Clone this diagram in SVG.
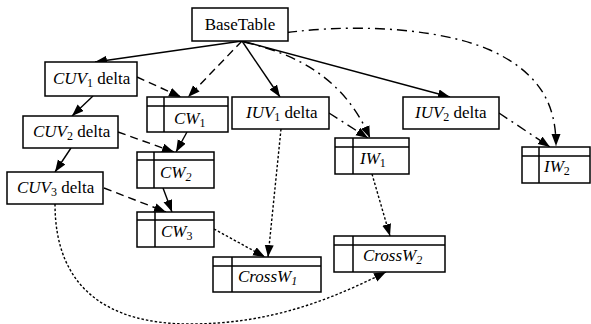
<svg xmlns="http://www.w3.org/2000/svg" width="591" height="324" viewBox="0 0 591 324">
<defs>
<marker id="ah" markerUnits="userSpaceOnUse" markerWidth="13" markerHeight="10" refX="12" refY="4.5" orient="auto">
<path d="M0,0 L12,4.5 L0,9 z" fill="#000"/>
</marker>
</defs>
<style>
.box{fill:#fff;stroke:#000;stroke-width:1.5}
.ln{fill:none;stroke:#000;stroke-width:1.5}
.t{font-family:"Liberation Serif","Times New Roman",serif;font-size:17px;fill:#000}
.i{font-style:italic}
.sub{font-size:12px}
.e{fill:none;stroke:#000;stroke-width:1.4;marker-end:url(#ah)}
.solid{}
.dash{stroke-dasharray:8 5}
.dd{stroke-dasharray:10 5 2 5}
.dot{stroke-dasharray:2.5 2}
</style>
<rect width="591" height="324" fill="#fff"/>
<g id="connectors">
<path class="e solid" d="M242,41 L95,62"/>
<path class="e dash" d="M242,41 L188,97"/>
<path class="e solid" d="M242,41 L280,97"/>
<path class="e dd" d="M244,42 C300,55 345,80 370,138"/>
<path class="e solid" d="M242,41 L450,97"/>
<path class="e dd" d="M244,41 C300,25 420,20 490,50 C545,75 556,110 556,146"/>
<path class="e dash" d="M137,77 L181,97"/>
<path class="e solid" d="M93,96 L72,116"/>
<path class="e solid" d="M71,148 L55,172"/>
<path class="e solid" d="M187,132 L176,152"/>
<path class="e dash" d="M118,132 L174,152"/>
<path class="e solid" d="M163,188 L172,212"/>
<path class="e dash" d="M104,188 L166,212"/>
<path class="e dot" d="M214,229 L265,257"/>
<path class="e dot" d="M281,129 L268,257"/>
<path class="e dd" d="M329,113 L368,138"/>
<path class="e dd" d="M499,113 L550,147"/>
<path class="e dot" d="M372,174 L390,236"/>
<path class="e dot" d="M55,204 C55,290 110,324 190,324 C270,324 330,300 386,272"/>
</g>
<g id="BaseTable">
<rect class="box" x="192" y="8" width="96" height="33"/>
<text class="t" x="240" y="30" text-anchor="middle">BaseTable</text>
</g>
<g id="CUV1">
<rect class="box" x="45" y="62" width="92" height="34"/>
<text class="t" x="53" y="84"><tspan class="i">CUV</tspan><tspan class="sub" dy="3">1</tspan><tspan dy="-3"> delta</tspan></text>
</g>
<g id="CUV2">
<rect class="box" x="23" y="116" width="95" height="32"/>
<text class="t" x="33" y="137"><tspan class="i">CUV</tspan><tspan class="sub" dy="3">2</tspan><tspan dy="-3"> delta</tspan></text>
</g>
<g id="CUV3">
<rect class="box" x="7" y="172" width="96" height="32"/>
<text class="t" x="17" y="193"><tspan class="i">CUV</tspan><tspan class="sub" dy="3">3</tspan><tspan dy="-3"> delta</tspan></text>
</g>
<g id="IUV1">
<rect class="box" x="232" y="97" width="97" height="32"/>
<text class="t" x="246" y="118"><tspan class="i">IUV</tspan><tspan class="sub" dy="3">1</tspan><tspan dy="-3"> delta</tspan></text>
</g>
<g id="IUV2">
<rect class="box" x="403" y="97" width="96" height="32"/>
<text class="t" x="415" y="118"><tspan class="i">IUV</tspan><tspan class="sub" dy="3">2</tspan><tspan dy="-3"> delta</tspan></text>
</g>
<g id="CW1">
<rect class="box" x="147" y="97" width="81" height="35"/>
<path class="ln" d="M147,106 H228 M164,97 V132"/>
<text class="t" x="174" y="124"><tspan class="i">CW</tspan><tspan class="sub" dy="3">1</tspan></text>
</g>
<g id="CW2">
<rect class="box" x="137" y="152" width="77" height="36"/>
<path class="ln" d="M137,160 H214 M154,152 V188"/>
<text class="t" x="160" y="178"><tspan class="i">CW</tspan><tspan class="sub i" dy="3">2</tspan></text>
</g>
<g id="CW3">
<rect class="box" x="137" y="212" width="77" height="35"/>
<path class="ln" d="M137,220 H214 M155,212 V247"/>
<text class="t" x="161" y="237"><tspan class="i">CW</tspan><tspan class="sub" dy="3">3</tspan></text>
</g>
<g id="CrossW1">
<rect class="box" x="213" y="257" width="108" height="35"/>
<path class="ln" d="M213,266 H321 M232,257 V292"/>
<text class="t" x="238" y="282"><tspan class="i">CrossW</tspan><tspan class="sub i" dy="3">1</tspan></text>
</g>
<g id="IW1">
<rect class="box" x="335" y="138" width="74" height="36"/>
<path class="ln" d="M335,147 H409 M353,138 V174"/>
<text class="t" x="360" y="164"><tspan class="i">IW</tspan><tspan class="sub" dy="3">1</tspan></text>
</g>
<g id="IW2">
<rect class="box" x="522" y="147" width="68" height="36"/>
<path class="ln" d="M522,156 H590 M539,147 V183"/>
<text class="t" x="544" y="172"><tspan class="i">IW</tspan><tspan class="sub" dy="3">2</tspan></text>
</g>
<g id="CrossW2">
<rect class="box" x="334" y="236" width="111" height="36"/>
<path class="ln" d="M334,245 H445 M353,236 V272"/>
<text class="t" x="363" y="261"><tspan class="i">CrossW</tspan><tspan class="sub i" dy="3">2</tspan></text>
</g>
</svg>
